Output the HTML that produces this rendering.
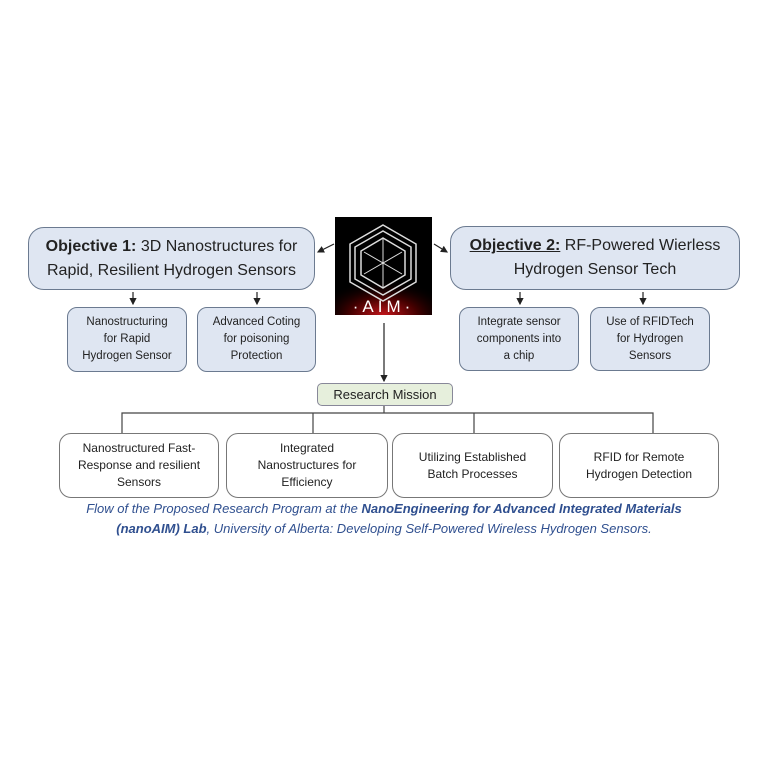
<!DOCTYPE html>
<html><head><meta charset="utf-8"><style>
body{margin:0;background:#fff;width:768px;height:768px;position:relative;font-family:"Liberation Sans",sans-serif;overflow:hidden}
.b{position:absolute;box-sizing:border-box;border:1.5px solid #6b7a90;background:#dfe6f2;border-radius:12px;display:flex;align-items:center;justify-content:center;text-align:center;color:#222}
.big{font-size:16px;line-height:24px;border-radius:16px}
.sm{font-size:11.5px;line-height:17px;border-radius:10px}
.w{background:#fff;border-color:#777;font-size:12px;line-height:17px;border-radius:12px}
.cap{position:absolute;left:0;width:768px;text-align:center;color:#2f4f8f;font-style:italic;font-size:13px;line-height:20px}
</style></head><body>
<div class="b big" style="left:28px;top:227px;width:287px;height:63px"><div><b>Objective 1:</b> 3D Nanostructures for<br>Rapid, Resilient Hydrogen Sensors</div></div>
<div class="b big" style="left:450px;top:226px;width:290px;height:64px"><div><b><u>Objective 2:</u></b> RF-Powered Wierless<br>Hydrogen Sensor Tech</div></div>
<div class="b sm" style="left:67px;top:307px;width:120px;height:65px">Nanostructuring<br>for Rapid<br>Hydrogen Sensor</div>
<div class="b sm" style="left:197px;top:307px;width:119px;height:65px">Advanced Coting<br>for poisoning<br>Protection</div>
<div class="b sm" style="left:459px;top:307px;width:120px;height:64px">Integrate sensor<br>components into<br>a chip</div>
<div class="b sm" style="left:590px;top:307px;width:120px;height:64px">Use of RFIDTech<br>for Hydrogen<br>Sensors</div>
<div class="b" style="left:317px;top:383px;width:136px;height:23px;background:#e6efdc;border-color:#889;border-radius:5px;font-size:13px">Research Mission</div>
<div class="b w" style="left:59px;top:433px;width:160px;height:65px">Nanostructured Fast-<br>Response and resilient<br>Sensors</div>
<div class="b w" style="left:226px;top:433px;width:162px;height:65px">Integrated<br>Nanostructures for<br>Efficiency</div>
<div class="b w" style="left:392px;top:433px;width:161px;height:65px">Utilizing Established<br>Batch Processes</div>
<div class="b w" style="left:559px;top:433px;width:160px;height:65px">RFID for Remote<br>Hydrogen Detection</div>
<svg style="position:absolute;left:0;top:0" width="768" height="768">
<defs>
<radialGradient id="g" cx="0.5" cy="1" r="0.7"><stop offset="0" stop-color="#c0141a"/><stop offset="0.5" stop-color="#400"/><stop offset="1" stop-color="#000" stop-opacity="0"/></radialGradient>
<marker id="a" markerWidth="6" markerHeight="6" refX="5" refY="3" orient="auto"><path d="M0,0L6,3L0,6z" fill="#222"/></marker>
</defs>
<rect x="335" y="217" width="97" height="98" fill="#000"/>
<rect x="335" y="265" width="97" height="50" fill="url(#g)"/>
<g stroke="#ddd" fill="none" stroke-width="1.5">
<polygon points="383,225 416,244 416,282 383,301 350,282 350,244"/>
<polygon points="383,231 411,247 411,279 383,295 355,279 355,247"/>
<polygon points="383,238 405,251 405,275 383,288 361,275 361,251"/>
<path d="M383,238V288M364,252L402,274M402,252L364,274" stroke-width="1"/>
</g>
<text x="383.5" y="312" fill="#fff" font-size="17" text-anchor="middle" font-family="Liberation Sans" letter-spacing="4">·AIM·</text>
<g stroke="#222" stroke-width="1.2" fill="none">
<line x1="384" y1="323" x2="384" y2="381" marker-end="url(#a)"/>
<line x1="334" y1="244" x2="318" y2="252" marker-end="url(#a)"/>
<line x1="434" y1="244" x2="447" y2="252" marker-end="url(#a)"/>
<line x1="133" y1="292" x2="133" y2="304" marker-end="url(#a)"/>
<line x1="257" y1="292" x2="257" y2="304" marker-end="url(#a)"/>
<line x1="520" y1="292" x2="520" y2="304" marker-end="url(#a)"/>
<line x1="643" y1="292" x2="643" y2="304" marker-end="url(#a)"/>
<path d="M384,406V413M122,433V413H653V433M313,413V433M474,413V433" stroke="#444"/>
</g>
</svg>
<div class="cap" style="top:499px">Flow of the Proposed Research Program at the <b>NanoEngineering for Advanced Integrated Materials</b></div>
<div class="cap" style="top:519px"><b>(nanoAIM) Lab</b>, University of Alberta: Developing Self-Powered Wireless Hydrogen Sensors.</div>
</body></html>
